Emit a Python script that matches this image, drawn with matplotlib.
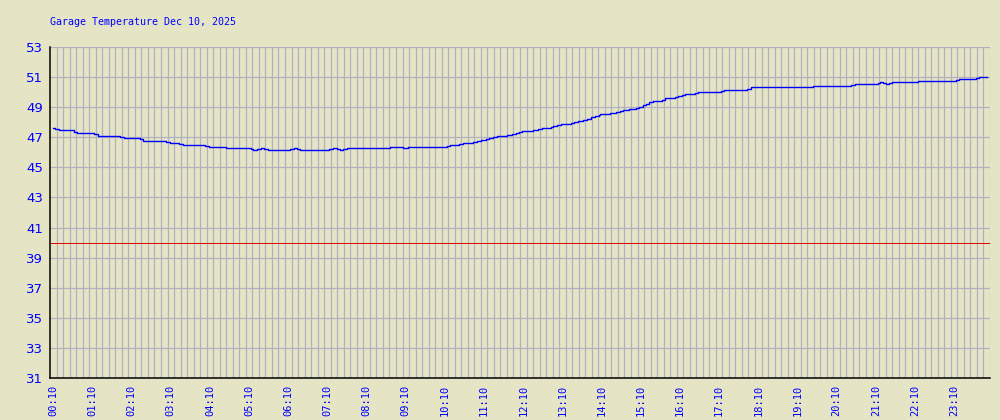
import numpy as np
import matplotlib
matplotlib.use("Agg")
import matplotlib.pyplot as plt

# minutes after midnight where each reading level starts, and the reading (F)
minutes = [10, 13, 19, 42, 46, 72, 79, 112, 118, 143, 147, 183, 189, 203, 209,
           242, 249, 275, 313, 316, 322, 328, 333, 339, 373, 379, 383, 388,
           432, 439, 445, 449, 454, 460, 526, 546, 553, 613, 618, 632, 638,
           653, 659, 665, 673, 678, 684, 690, 705, 713, 719, 724, 728, 745,
           753, 759, 772, 776, 782, 788, 803, 808, 814, 822, 828, 834, 840,
           846, 848, 863, 872, 878, 883, 892, 903, 907, 913, 918, 923, 929,
           942, 947, 962, 967, 973, 978, 993, 998, 1014, 1033, 1037, 1073,
           1079, 1174, 1232, 1238, 1273, 1276, 1281, 1286, 1290, 1295, 1298,
           1335, 1393, 1397, 1424, 1428, 1440]
temps = [47.60, 47.53, 47.47, 47.37, 47.27, 47.20, 47.10, 47.00, 46.93, 46.87,
         46.78, 46.70, 46.60, 46.53, 46.47, 46.40, 46.36, 46.27, 46.20, 46.14,
         46.20, 46.27, 46.20, 46.14, 46.20, 46.27, 46.20, 46.14, 46.20, 46.27,
         46.20, 46.14, 46.20, 46.27, 46.36, 46.27, 46.36, 46.42, 46.49, 46.55,
         46.62, 46.71, 46.78, 46.84, 46.91, 46.97, 47.04, 47.10, 47.15, 47.20,
         47.27, 47.33, 47.42, 47.48, 47.55, 47.60, 47.68, 47.77, 47.84, 47.90,
         47.97, 48.04, 48.10, 48.17, 48.24, 48.33, 48.40, 48.46, 48.53, 48.60,
         48.66, 48.73, 48.81, 48.88, 48.97, 49.03, 49.13, 49.20, 49.32, 49.39,
         49.50, 49.59, 49.66, 49.74, 49.79, 49.86, 49.92, 49.99, 50.03, 50.10,
         50.16, 50.23, 50.32, 50.39, 50.45, 50.52, 50.59, 50.65, 50.59, 50.52,
         50.59, 50.65, 50.70, 50.76, 50.83, 50.87, 50.94, 51.00, 51.00]

alarm_level = 40
y_ticks = list(range(31, 54, 2))
x_labels = ["%02d:10" % h for h in range(24)]
x_ticks = [h * 60 + 10 for h in range(24)]
title = "Garage Temperature Dec 10, 2025"

bg = "#e5e5c5"
grid_c = "#b0b0c0"
blue = "#0000ff"

fig = plt.figure(figsize=(10, 4.2), dpi=100, facecolor=bg)
ax = fig.add_axes([0.05, 0.1, 0.94, 0.788], facecolor=bg)

# grid: horizontal every 2 deg, vertical every 10 minutes
for y in y_ticks:
    ax.axhline(y, color=grid_c, lw=0.9, zorder=1)
for t in range(15, 1446, 10):
    ax.axvline(t, color=grid_c, lw=0.9, zorder=1)

ax.axhline(alarm_level, color="#dd0000", lw=0.7, zorder=2)
ax.plot(minutes, temps, color=blue, lw=1.0, drawstyle="steps-post", zorder=3)

ax.set_xlim(5, 1445)
ax.set_ylim(31, 53)
ax.set_yticks(y_ticks)
ax.set_yticklabels([str(v) for v in y_ticks], color=blue, fontsize=9.5,
                   family="DejaVu Sans")
ax.set_xticks(x_ticks)
ax.set_xticklabels(x_labels, rotation=90, color=blue, fontsize=7.5,
                   family="DejaVu Sans Mono")
ax.tick_params(axis="both", length=0)
ax.tick_params(axis="y", pad=5)
ax.tick_params(axis="x", pad=5)

for s in ["top", "right"]:
    ax.spines[s].set_visible(False)
for s in ["left", "bottom"]:
    ax.spines[s].set_color("black")
    ax.spines[s].set_linewidth(1.1)
    ax.spines[s].set_zorder(4)

fig.text(0.05, 1 - 22 / 420, title, color=blue, fontsize=7.2,
         family="DejaVu Sans Mono", va="center", ha="left")

fig.savefig("out.png", dpi=100, facecolor=bg)
